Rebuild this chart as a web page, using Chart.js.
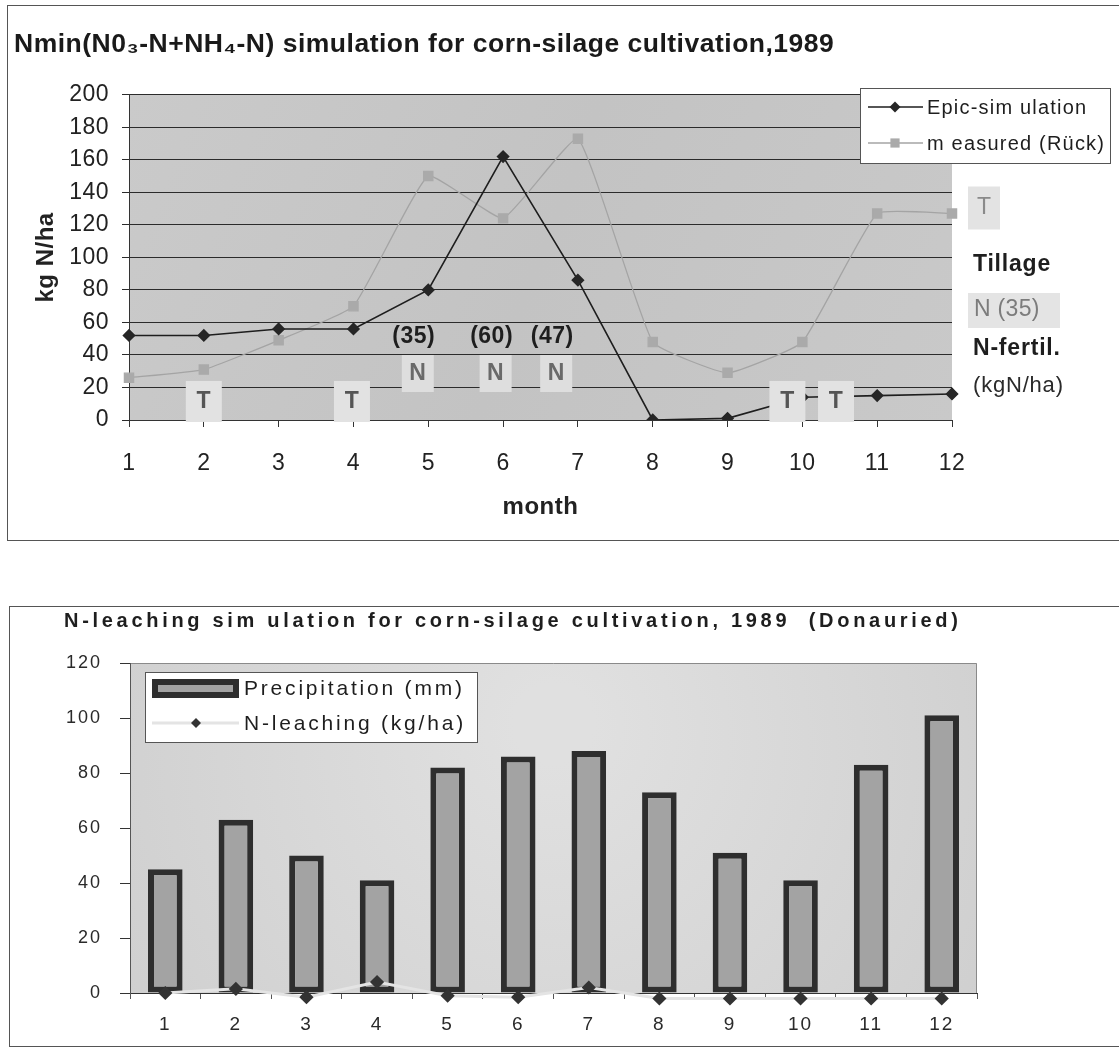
<!DOCTYPE html>
<html>
<head>
<meta charset="utf-8">
<script src="https://cdn.jsdelivr.net/npm/chart.js@4.4.1/dist/chart.umd.min.js"></script>
<style>
  body { margin: 0; background: #fff; width: 1119px; height: 1048px; position: relative; overflow: hidden; }
  .frame { position: absolute; border: 1px solid #555; box-sizing: border-box; }
  .box { position: absolute; left: 0; width: 1119px; }
</style>
</head>
<body>
<div class="frame" style="left:7px;top:5px;width:1130px;height:536px"></div>
<div class="frame" style="left:9px;top:606px;width:1130px;height:441px"></div>
<div class="box" style="top:0;height:550px"><canvas id="nmin"></canvas></div>
<div class="box" style="top:550px;height:498px"><canvas id="leach"></canvas></div>

<script>
const FONT = "'Liberation Sans', Arial, Helvetica, sans-serif";

// --- data ---
const months = ['1', '2', '3', '4', '5', '6', '7', '8', '9', '10', '11', '12'];
const epicSim = [52, 52, 56, 56, 80, 162, 86, 0, 1, 14, 15, 16];
const measuredRueck = [26, 31, 49, 70, 150, 124, 173, 48, 29, 48, 127, 127];
const precipitation = [45, 63, 50, 41, 82, 86, 88, 73, 51, 41, 83, 101];
const nLeaching = [0, 1.5, -1.5, 4, -1, -1.5, 2, -2, -2, -2, -2, -2];

// tillage (T) and fertiliser (N) marks, in months
const tillageMonths = [2, 3.98, 9.8, 10.45];
const fertilMonths = [4.86, 5.9, 6.71];
const fertilAmounts = ['(35)', '(60)', '(47)'];

function labelBox(ctx, txt, cx, cy, w, h, bg, color, font) {
  ctx.save();
  if (bg) {
    ctx.fillStyle = bg;
    ctx.fillRect(cx - w / 2, cy - h / 2, w, h);
  }
  ctx.font = font;
  ctx.fillStyle = color;
  ctx.textAlign = 'center';
  ctx.textBaseline = 'middle';
  ctx.fillText(txt, cx, cy);
  ctx.restore();
}

function leftText(ctx, txt, x, y, color, font, spacing) {
  ctx.save();
  ctx.font = font;
  ctx.fillStyle = color;
  ctx.textAlign = 'left';
  ctx.textBaseline = 'middle';
  ctx.letterSpacing = spacing || '0px';
  ctx.fillText(txt, x, y);
  ctx.restore();
}

const nminDecor = {
  id: 'nminDecor',
  beforeDraw(chart) {
    const {ctx, chartArea: a} = chart;
    ctx.save();
    const g = ctx.createLinearGradient(a.left, a.top, a.right, a.bottom);
    g.addColorStop(0, '#cacaca');
    g.addColorStop(0.5, '#c3c3c3');
    g.addColorStop(1, '#c9c9c9');
    ctx.fillStyle = g;
    ctx.fillRect(a.left, a.top, a.right - a.left, a.bottom - a.top);
    ctx.restore();
    ctx.letterSpacing = '0.5px';
  },
  afterDatasetsDraw(chart) {
    const {ctx, scales: {x, y}} = chart;
    const px = m => x.getPixelForValue(m - 1);
    tillageMonths.forEach(m => {
      labelBox(ctx, 'T', px(m), y.getPixelForValue(11.4), 36, 41, '#e2e2e2', '#555', 'bold 23px ' + FONT);
    });
    fertilMonths.forEach((m, i) => {
      labelBox(ctx, 'N', px(m), y.getPixelForValue(28.6), 32, 37, '#dedede', '#6a6a6a', 'bold 23px ' + FONT);
      labelBox(ctx, fertilAmounts[i], px(m) - 4, y.getPixelForValue(51), 0, 0, null, '#1e1e1e', 'bold 23px ' + FONT);
    });
  },
  afterDraw(chart) {
    const {ctx} = chart;
    ctx.letterSpacing = '0px';
    // legend
    ctx.save();
    ctx.fillStyle = '#fff';
    ctx.fillRect(860, 88, 250, 75);
    ctx.strokeStyle = '#555';
    ctx.lineWidth = 1;
    ctx.strokeRect(860.5, 88.5, 250, 75);
    const rows = [107, 143];
    chart.data.datasets.forEach((ds, i) => {
      const yy = rows[i];
      ctx.strokeStyle = ds.borderColor;
      ctx.lineWidth = ds.borderWidth;
      ctx.beginPath();
      ctx.moveTo(868, yy);
      ctx.lineTo(923, yy);
      ctx.stroke();
      ctx.fillStyle = ds.pointBackgroundColor;
      Chart.helpers.drawPoint(ctx, {pointStyle: ds.pointStyle, radius: ds.pointRadius, borderWidth: 0}, 895, yy);
      leftText(ctx, ds.label, 927, yy + 1, '#1e1e1e', '20px ' + FONT, '1.2px');
    });
    ctx.restore();
    // notes right of the plot
    labelBox(ctx, 'T', 984, 208, 32, 43, '#e3e3e3', '#8a8a8a', '23px ' + FONT);
    leftText(ctx, 'Tillage', 973, 265, '#1e1e1e', 'bold 23px ' + FONT, '0.8px');
    ctx.save();
    ctx.fillStyle = '#e4e4e4';
    ctx.fillRect(968, 293, 92, 35);
    ctx.restore();
    leftText(ctx, 'N (35)', 974, 310, '#7c7c7c', '23px ' + FONT, '0.3px');
    leftText(ctx, 'N-fertil.', 973, 349, '#1e1e1e', 'bold 23px ' + FONT, '0.8px');
    leftText(ctx, '(kgN/ha)', 973, 386, '#2a2a2a', '22px ' + FONT, '0.8px');
  }
};

new Chart(document.getElementById('nmin'), {
  type: 'line',
  data: {
    labels: months,
    datasets: [{
      label: 'Epic-sim ulation',
      data: epicSim,
      borderColor: '#1e1e1e',
      borderWidth: 1.6,
      pointStyle: 'rectRot',
      pointRadius: 5.5,
      pointBackgroundColor: '#262626',
      pointBorderColor: '#262626',
      tension: 0,
      order: 0
    }, {
      label: 'm easured (Rück)',
      data: measuredRueck,
      borderColor: '#a4a4a4',
      borderWidth: 1.3,
      pointStyle: 'rect',
      pointRadius: 6.5,
      pointBackgroundColor: '#aaaaaa',
      pointBorderColor: '#aaaaaa',
      tension: 0.12,
      order: 1
    }]
  },
  options: {
    responsive: true,
    maintainAspectRatio: false,
    animation: false,
    layout: { padding: { top: 0, left: 14, right: 167, bottom: 0 } },
    scales: {
      x: {
        offset: false,
        grid: { drawOnChartArea: false, tickLength: 7, color: '#333' },
        border: { color: '#333' },
        ticks: { font: { family: FONT, size: 23 }, color: '#222', padding: 23 },
        title: { display: true, text: 'month', color: '#222',
          font: { family: FONT, size: 24, weight: 'bold' }, padding: { top: 0, bottom: 28 } },
        afterFit(s) { s.height = 130; }
      },
      y: {
        min: 0,
        max: 200,
        ticks: { stepSize: 20, font: { family: FONT, size: 23 }, color: '#222', padding: 13 },
        grid: { color: '#2b2b2b', tickLength: 7 },
        border: { color: '#333' },
        title: { display: true, text: 'kg N/ha', color: '#222',
          font: { family: FONT, size: 24, weight: 'bold' }, padding: { top: 18, bottom: 0 } },
        afterFit(s) { s.width = 115; }
      }
    },
    plugins: {
      legend: { display: false },
      tooltip: { enabled: false },
      title: {
        display: true,
        align: 'start',
        text: 'Nmin(N0₃-N+NH₄-N) simulation for corn-silage cultivation,1989',
        color: '#1a1a1a',
        font: { family: FONT, size: 26.5, weight: 'bold' },
        padding: { top: 29, bottom: 34 }
      }
    }
  },
  plugins: [nminDecor]
});

const leachDecor = {
  id: 'leachDecor',
  beforeDraw(chart) {
    const {ctx, chartArea: a} = chart;
    ctx.save();
    const g = ctx.createRadialGradient((a.left + a.right) / 2, a.top + 60, 40, (a.left + a.right) / 2, a.top + 120, 600);
    g.addColorStop(0, '#e0e0e0');
    g.addColorStop(1, '#cbcbcb');
    ctx.fillStyle = g;
    ctx.fillRect(a.left, a.top, a.right - a.left, a.bottom - a.top);
    ctx.strokeStyle = '#8a8a8a';
    ctx.lineWidth = 1;
    ctx.beginPath();
    ctx.moveTo(a.left, a.top + 0.5);
    ctx.lineTo(a.right - 0.5, a.top + 0.5);
    ctx.lineTo(a.right - 0.5, a.bottom);
    ctx.stroke();
    ctx.restore();
    ctx.letterSpacing = '2px';
  },
  afterDraw(chart) {
    const {ctx} = chart;
    ctx.letterSpacing = '0px';
    leftText(ctx, 'N-leaching sim ulation for corn-silage cultivation, 1989  (Donauried)', 64, 71,
      '#1e1e1e', 'bold 20px ' + FONT, '3.7px');
    // legend
    ctx.save();
    ctx.fillStyle = '#fff';
    ctx.fillRect(145, 122, 332, 70);
    ctx.strokeStyle = '#555';
    ctx.lineWidth = 1;
    ctx.strokeRect(145.5, 122.5, 332, 70);
    const bar = chart.data.datasets[0];
    ctx.fillStyle = bar.borderColor;
    ctx.fillRect(152, 129, 87, 19);
    ctx.fillStyle = bar.backgroundColor;
    ctx.fillRect(158, 135, 75, 7);
    leftText(ctx, bar.label, 244, 139, '#1e1e1e', '21px ' + FONT, '2.8px');
    const line = chart.data.datasets[1];
    ctx.strokeStyle = line.borderColor;
    ctx.lineWidth = line.borderWidth;
    ctx.beginPath();
    ctx.moveTo(152, 173);
    ctx.lineTo(239, 173);
    ctx.stroke();
    ctx.fillStyle = line.pointBackgroundColor;
    Chart.helpers.drawPoint(ctx, {pointStyle: 'rectRot', radius: 5, borderWidth: 0}, 196, 173);
    leftText(ctx, line.label, 244, 174, '#1e1e1e', '21px ' + FONT, '2.8px');
    ctx.restore();
  }
};

new Chart(document.getElementById('leach'), {
  type: 'bar',
  data: {
    labels: months,
    datasets: [{
      type: 'bar',
      label: 'Precipitation (mm)',
      data: precipitation,
      backgroundColor: '#a3a3a3',
      borderColor: '#2e2e2e',
      borderWidth: 6,
      borderSkipped: false,
      categoryPercentage: 1,
      barPercentage: 0.49,
      order: 1
    }, {
      type: 'line',
      label: 'N-leaching (kg/ha)',
      data: nLeaching,
      borderColor: '#e4e4e4',
      borderWidth: 3,
      pointStyle: 'rectRot',
      pointRadius: 5,
      pointBackgroundColor: '#333',
      pointBorderColor: '#333',
      clip: false,
      order: 0
    }]
  },
  options: {
    responsive: true,
    maintainAspectRatio: false,
    animation: false,
    layout: { padding: { top: 113, left: 0, right: 142, bottom: 0 } },
    scales: {
      x: {
        grid: { drawOnChartArea: false, tickLength: 6, color: '#555' },
        border: { color: '#333' },
        ticks: { font: { family: FONT, size: 19 }, color: '#2a2a2a', padding: 14 },
        afterFit(s) { s.height = 55; }
      },
      y: {
        min: 0,
        max: 120,
        ticks: { stepSize: 20, font: { family: FONT, size: 18 }, color: '#2a2a2a', padding: 18 },
        grid: { drawOnChartArea: false, tickLength: 10, color: '#333' },
        border: { color: '#555' },
        afterFit(s) { s.width = 130; }
      }
    },
    plugins: {
      legend: { display: false },
      tooltip: { enabled: false }
    }
  },
  plugins: [leachDecor]
});
</script>
</body>
</html>
